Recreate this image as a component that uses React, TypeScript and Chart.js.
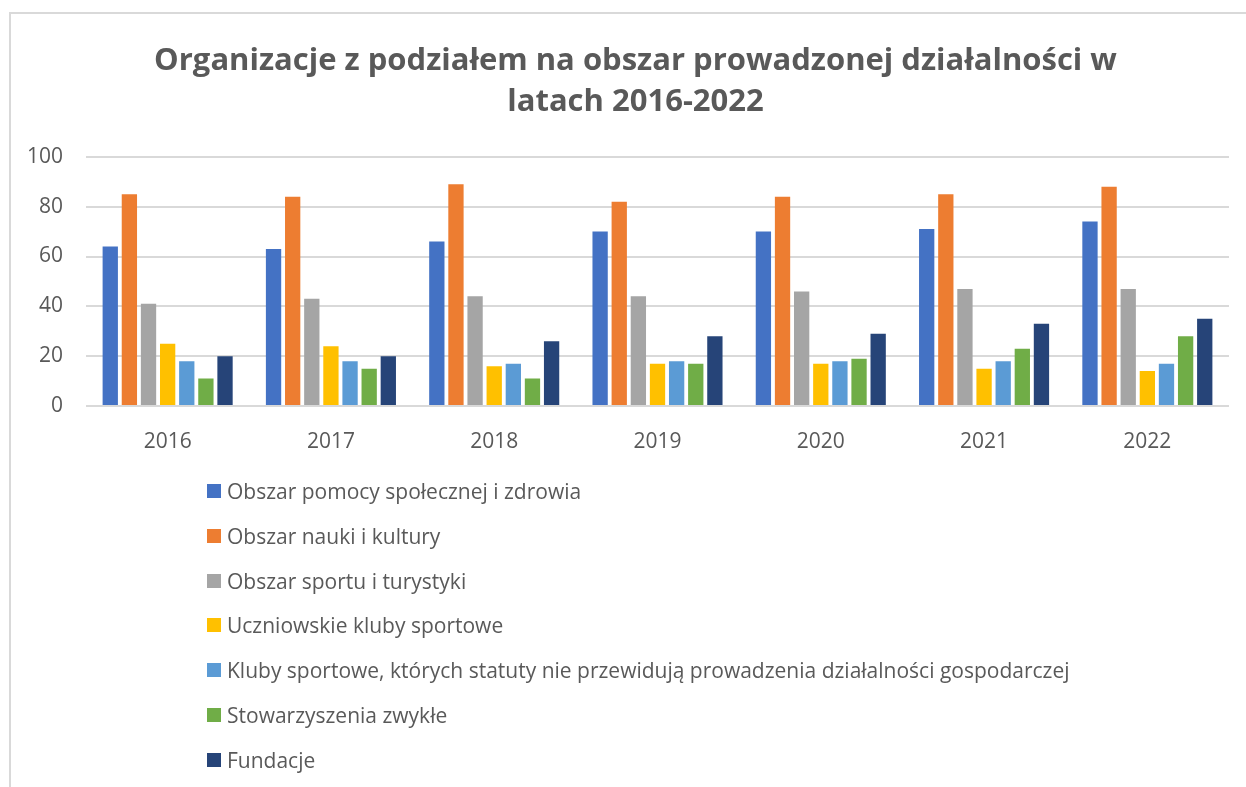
import React, { useEffect, useRef } from "react";
import { Chart, registerables } from "chart.js";

Chart.register(...registerables);

const years = ["2016", "2017", "2018", "2019", "2020", "2021", "2022"];
const seriesNames = [
  "Obszar pomocy społecznej i zdrowia",
  "Obszar nauki i kultury",
  "Obszar sportu i turystyki",
  "Uczniowskie kluby sportowe",
  "Kluby sportowe, których statuty nie przewidują prowadzenia działalności gospodarczej",
  "Stowarzyszenia zwykłe",
  "Fundacje",
];
const pomocySpolecznej = [64, 63, 66, 70, 70, 71, 74];
const naukiKultury = [85, 84, 89, 82, 84, 85, 88];
const sportuTurystyki = [41, 43, 44, 44, 46, 47, 47];
const uczniowskieKluby = [25, 24, 16, 17, 17, 15, 14];
const klubySportowe = [18, 18, 17, 18, 18, 18, 17];
const stowarzyszeniaZwykle = [11, 15, 11, 17, 19, 23, 28];
const fundacje = [20, 20, 26, 28, 29, 33, 35];
const yTicks = [0, 20, 40, 60, 80, 100];
const titleLines = [
  "Organizacje z podziałem na obszar prowadzonej działalności w",
  "latach 2016-2022",
];

const colors = ["#4472C4", "#ED7D31", "#A5A5A5", "#FFC000", "#5B9BD5", "#70AD47", "#264478"];
const seriesValues = [
  pomocySpolecznej,
  naukiKultury,
  sportuTurystyki,
  uczniowskieKluby,
  klubySportowe,
  stowarzyszeniaZwykle,
  fundacje,
];

const FONT = "'Open Sans', 'Noto Sans', sans-serif";
const TEXT = "#595959";

const shiftTitle = {
  id: "shiftTitle",
  afterLayout(chart: any) {
    const t = chart.titleBlock;
    if (t) {
      t.left += 21;
      t.right += 21;
    }
  },
};

export default function App() {
  const ref = useRef<HTMLCanvasElement | null>(null);

  useEffect(() => {
    if (!ref.current) return;
    const chart = new Chart(ref.current, {
      type: "bar",
      data: {
        labels: years,
        datasets: seriesNames.map((name, i) => ({
          label: name,
          data: seriesValues[i],
          backgroundColor: colors[i],
          borderWidth: 0,
          categoryPercentage: 0.82,
          barPercentage: 0.8,
        })),
      },
      options: {
        animation: false,
        responsive: false,
        maintainAspectRatio: false,
        layout: { padding: { left: 0, right: 17, top: 14, bottom: 331 } },
        plugins: {
          legend: { display: false },
          tooltip: { enabled: false },
          title: {
            display: true,
            text: titleLines,
            color: TEXT,
            font: { family: FONT, size: 31, weight: "bold", lineHeight: 1.32 },
            padding: { top: 27, bottom: 34 },
          },
        },
        scales: {
          x: {
            grid: { display: false },
            border: { display: false },
            ticks: {
              color: TEXT,
              font: { family: FONT, size: 21 },
              padding: 15,
            },
            afterFit: (s: any) => {
              s.height = 50;
            },
          },
          y: {
            min: 0,
            max: 100,
            afterBuildTicks: (s: any) => {
              s.ticks = yTicks.map((v) => ({ value: v }));
            },
            grid: { color: "#d9d9d9", lineWidth: 2, drawTicks: false },
            border: { display: false },
            ticks: {
              color: TEXT,
              font: { family: FONT, size: 21 },
              padding: 23,
            },
            afterFit: (s: any) => {
              s.width = 86;
            },
          },
        },
      },
      plugins: [shiftTitle],
    });
    return () => chart.destroy();
  }, []);

  return (
    <div style={{ position: "absolute", left: 0, top: 0, width: 1246, height: 787, background: "#fff", overflow: "hidden" }}>
      <div
        style={{
          position: "absolute",
          left: 9,
          top: 12,
          width: 1246,
          height: 800,
          borderLeft: "2px solid #d9d9d9",
          borderTop: "2px solid #d9d9d9",
        }}
      />
      <canvas ref={ref} width={1246} height={787} style={{ position: "absolute", left: 0, top: 0 }} />
      <div style={{ position: "absolute", left: 207, top: 0 }}>
        {seriesNames.map((name, i) => (
          <div
            key={name}
            style={{
              position: "absolute",
              left: 0,
              top: 491 + i * 44.8 - 15,
              height: 30,
              display: "flex",
              alignItems: "center",
              whiteSpace: "nowrap",
              fontFamily: FONT,
              fontSize: 21,
              color: TEXT,
            }}
          >
            <span style={{ display: "inline-block", width: 14, height: 14, background: colors[i], marginRight: 6 }} />
            <span>{name}</span>
          </div>
        ))}
      </div>
    </div>
  );
}
